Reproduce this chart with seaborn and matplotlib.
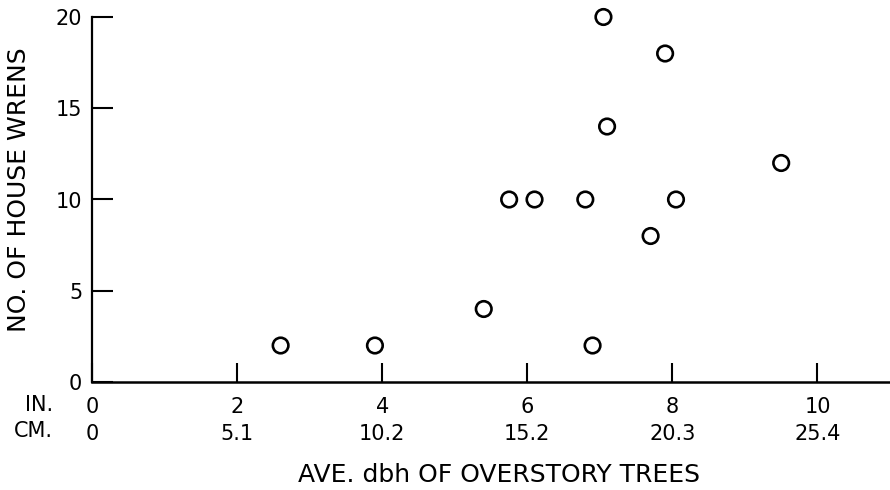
import matplotlib
matplotlib.use("Agg")
import matplotlib.pyplot as plt
import seaborn as sns
import pandas as pd

# Data
dbh_in = [2.6, 3.9, 5.4, 5.75, 6.1, 6.8, 6.9, 7.05, 7.1, 7.7, 7.9, 8.05, 9.5]
wrens = [2, 2, 4, 10, 10, 10, 2, 20, 14, 8, 18, 10, 12]

x_ticks_in = [0, 2, 4, 6, 8, 10]
x_ticks_cm = ["0", "5.1", "10.2", "15.2", "20.3", "25.4"]
y_ticks = [0, 5, 10, 15, 20]

sns.set_style("white")
plt.rcParams["font.family"] = ["DejaVu Sans"]
plt.rcParams["text.color"] = "black"
plt.rcParams["axes.labelcolor"] = "black"
plt.rcParams["xtick.color"] = "black"
plt.rcParams["ytick.color"] = "black"

df = pd.DataFrame({"dbh": dbh_in, "wrens": wrens})

W, H = 890, 490
fig = plt.figure(figsize=(8.9, 4.9), dpi=100)
ax = fig.add_axes([92 / W, 1 - 382 / H, 1 - 92 / W, (382 - 17) / H])

sns.scatterplot(data=df, x="dbh", y="wrens", ax=ax, marker="o", s=125,
                facecolor="none", edgecolor="black", linewidth=1.9,
                clip_on=False, zorder=3)

ax.set_xlim(0, 11)
ax.set_ylim(0, 20)

for s in ["top", "right"]:
    ax.spines[s].set_visible(False)
ax.spines["left"].set_linewidth(1.6)
ax.spines["bottom"].set_linewidth(1.8)
ax.spines["left"].set_color("black")
ax.spines["bottom"].set_color("black")

ax.set_xticks(x_ticks_in)
ax.set_xticklabels([f"{a}\n{b}" for a, b in zip(x_ticks_in, x_ticks_cm)],
                   linespacing=1.42)
ax.set_yticks(y_ticks)

ax.tick_params(axis="y", direction="in", length=15, width=1.5, pad=7,
               labelsize=15, left=True)
ax.tick_params(axis="x", direction="in", length=14, width=1.5, pad=11,
               labelsize=15, bottom=True)

ax.set_xlabel("AVE. dbh OF OVERSTORY TREES", fontsize=18, va="center")
ax.xaxis.set_label_coords((499 - 92) / 798, -(475 - 382) / 365)
ax.set_ylabel("NO. OF HOUSE WRENS", fontsize=18, va="center")
ax.yaxis.set_label_coords(-(92 - 19) / 798, (382 - 190) / 365)

fig.text(25 / W, 1 - 405 / H, "IN.", fontsize=15, ha="left", va="center")
fig.text(14 / W, 1 - 431 / H, "CM.", fontsize=15, ha="left", va="center")

fig.savefig("out.png", dpi=100)
